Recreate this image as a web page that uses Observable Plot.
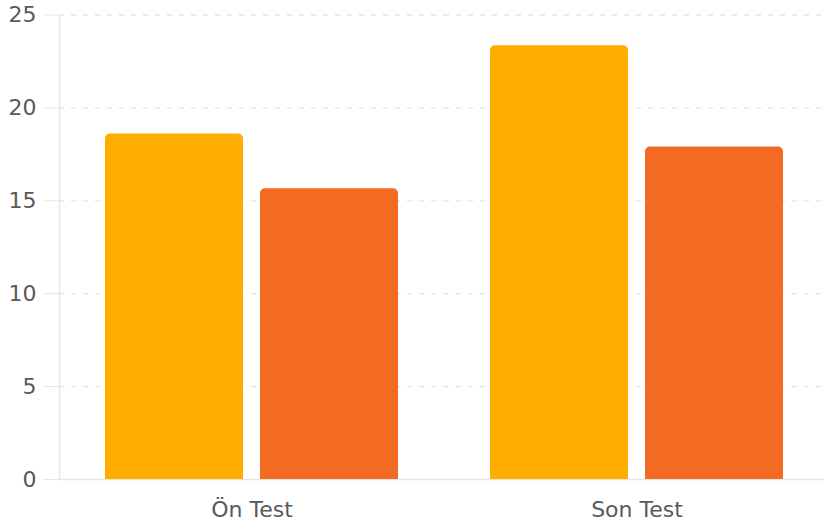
<!DOCTYPE html>
<html><head><meta charset="utf-8">
<script src="https://cdn.jsdelivr.net/npm/d3@7"></script>
<script src="https://cdn.jsdelivr.net/npm/@observablehq/plot@0.6"></script>
<style>body{margin:0;background:#fff}</style>
</head><body><div id="chart"></div>
<script>
const groups = ["Ön Test", "Son Test"];
const series = ["Seri 1", "Seri 2"];
const values1 = [18.6, 23.35];
const values2 = [15.65, 17.9];
const yTicks = [0, 5, 10, 15, 20, 25];
const colors = ["#FFAE00", "#F36A22"];

const data = groups.flatMap((g, i) => [
  {group: g, series: series[0], value: values1[i]},
  {group: g, series: series[1], value: values2[i]}
]);

const chart = Plot.plot({
  width: 824, height: 529,
  marginLeft: 59, marginRight: -5, marginTop: 14.5, marginBottom: 50,
  style: {fontFamily: "DejaVu Sans", fontSize: "22px", color: "#5a5a5a", background: "#fff"},
  fx: {domain: groups, padding: 0, label: null},
  x: {domain: series, paddingInner: 0.11, paddingOuter: 0.29, axis: null},
  y: {domain: [0, 25], label: null},
  color: {domain: series, range: colors},
  marks: [
    Plot.ruleY(yTicks.filter(d => d > 0), {stroke: "#e3e3e3", strokeWidth: 1.3, strokeDasharray: "5,7"}),
    Plot.ruleY([0], {stroke: "#e6e6e6", strokeWidth: 1.5}),
    Plot.frame({anchor: "left", facet: "super", stroke: "#e6e6e6", strokeWidth: 1.5}),
    Plot.barY(data, {fx: "group", x: "series", y: "value", fill: "series", ry1: 5}),
    Plot.axisY(yTicks, {tickSize: 16, tickPadding: 7, stroke: "#e6e6e6", fill: "#5a5a5a", label: null}),
    Plot.axisFx({anchor: "bottom", tickSize: 0, tickPadding: 22, fill: "#5a5a5a", label: null})
  ]
});
document.getElementById("chart").appendChild(chart);
</script>
</body></html>
